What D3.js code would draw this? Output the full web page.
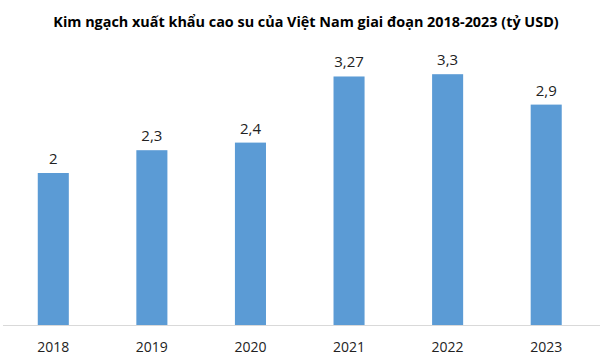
<!DOCTYPE html>
<html><head><meta charset="utf-8">
<script src="https://cdn.jsdelivr.net/npm/d3@7"></script>
<style>body{margin:0;background:#fff}svg{display:block}</style>
</head><body>
<svg id="c" width="606" height="360"></svg>
<script>
const title = "Kim ngạch xuất khẩu cao su của Việt Nam giai đoạn 2018-2023 (tỷ USD)";
const years = ["2018","2019","2020","2021","2022","2023"];
const values = [2, 2.3, 2.4, 3.27, 3.3, 2.9];
const valueLabels = ["2","2,3","2,4","3,27","3,3","2,9"];

const svg = d3.select("#c");
const x = d3.scaleBand().domain(years).range([4, 595.5]).paddingInner(0.685).paddingOuter(0.3425);
const y = d3.scaleLinear().domain([0, 4]).range([325, 325 - 76*4]);

svg.append("text").attr("x", 306).attr("y", 27).attr("text-anchor","middle")
  .attr("font-family","Open Sans").attr("font-weight","bold").attr("font-size",14.4)
  .attr("fill","#000").text(title);

svg.append("line").attr("x1",3).attr("x2",600).attr("y1",325.5).attr("y2",325.5)
  .attr("stroke","#d9d9d9").attr("stroke-width",1);

svg.selectAll("rect.bar").data(values).join("rect").attr("class","bar")
  .attr("x",(d,i)=>x(years[i])).attr("width",x.bandwidth())
  .attr("y",d=>y(d)).attr("height",d=>y(0)-y(d)).attr("fill","#5b9bd5");

svg.selectAll("text.val").data(values).join("text").attr("class","val")
  .attr("x",(d,i)=>x(years[i])+x.bandwidth()/2).attr("y",d=>y(d)-9)
  .attr("text-anchor","middle").attr("font-family","Open Sans").attr("font-size",15)
  .attr("fill","#222").text((d,i)=>valueLabels[i]);

const ax = svg.append("g").attr("transform","translate(0,325)")
  .call(d3.axisBottom(x).tickSize(0).tickPadding(17));
ax.select(".domain").remove();
ax.selectAll("text").attr("font-family","Open Sans").attr("font-size",14).attr("fill","#222");
</script>
</body></html>
